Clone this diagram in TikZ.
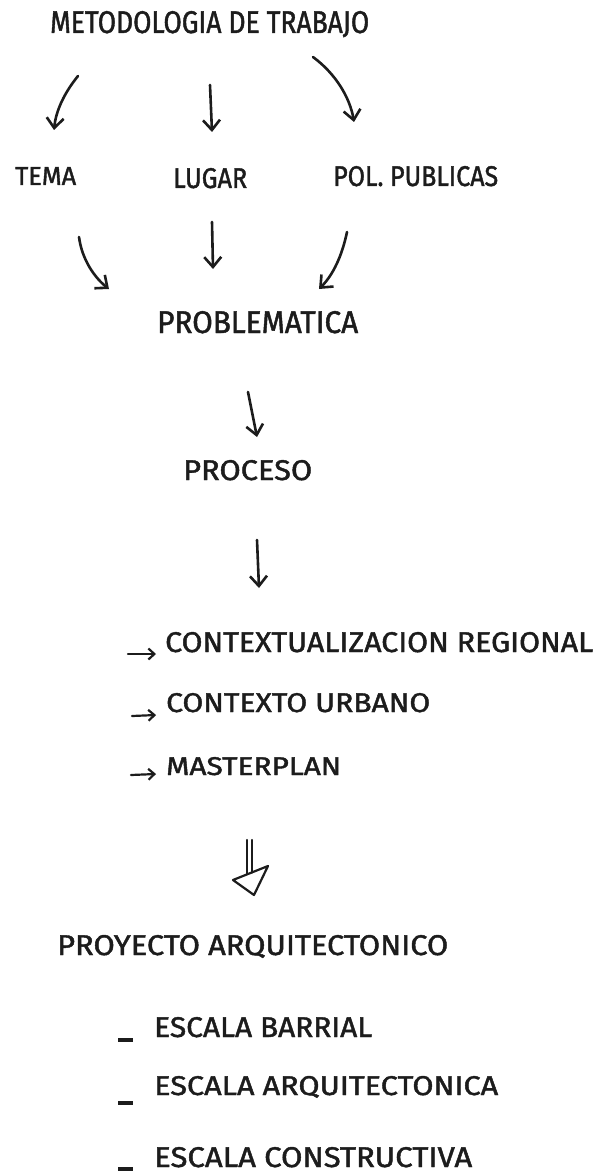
\documentclass[tikz,border=0pt]{standalone}
\usepackage{fontspec}
\newfontfamily\hand{Fira Sans}[FakeBold=1.5]
\usetikzlibrary{arrows.meta}
\definecolor{ink}{HTML}{1C1C1C}
\newcommand{\fit}[3]{\resizebox{#1pt}{#2pt}{#3}}
\tikzset{
  lbl/.style={anchor=base west, inner sep=0pt, text=ink, font=\hand\fontsize{26}{30}\selectfont},
  arr/.style={draw=ink, line width=2.6pt, line cap=round, line join=round,
    -{Straight Barb[length=10pt,width=17pt,line width=2.6pt]}},
  smallarr/.style={draw=ink, line width=2.2pt, line cap=round,
    -{Straight Barb[length=6pt,width=11pt,line width=2.2pt]}},
  dashmark/.style={draw=ink, line width=3.5pt},
  hollow/.style={draw=ink, line width=2.2pt, line join=round, line cap=round}
}
\begin{document}
\begin{tikzpicture}[x=1pt,y=-1pt]
\useasboundingbox (0,0) rectangle (602,1174);
% texts
\node[lbl] (met) at (50,33) {\fit{319}{22}{METODOLOGIA DE TRABAJO}};
\node[lbl] (tema) at (15,185) {\fit{61}{18}{TEMA}};
\node[lbl] (lugar) at (173,188) {\fit{74}{20}{LUGAR}};
\node[lbl] (pol) at (333,186) {\fit{165}{20}{POL. PUBLICAS}};
\node[lbl] (prob) at (157,333) {\fit{201}{22}{PROBLEMATICA}};
\node[lbl] (proc) at (183,480) {\fit{129}{20}{PROCESO}};
\node[lbl] (creg) at (165,652) {\fit{428}{20}{CONTEXTUALIZACION REGIONAL}};
\node[lbl] (curb) at (166,712) {\fit{264}{19}{CONTEXTO URBANO}};
\node[lbl] (mast) at (166,775) {\fit{175}{18}{MASTERPLAN}};
\node[lbl] (proy) at (57,955) {\fit{391}{20}{PROYECTO ARQUITECTONICO}};
\node[lbl] (ebar) at (154,1037) {\fit{218}{20}{ESCALA BARRIAL}};
\node[lbl] (earq) at (154,1095) {\fit{344}{19}{ESCALA ARQUITECTONICA}};
\node[lbl] (econ) at (154,1167) {\fit{318}{20}{ESCALA CONSTRUCTIVA}};
% connector end points
\coordinate (a1s) at (78,76);   \coordinate (a1e) at (54,130);
\coordinate (a2s) at (210,85);  \coordinate (a2e) at (212,132);
\coordinate (a3s) at (313,57);  \coordinate (a3e) at (354,122);
\coordinate (b1s) at (79,237);  \coordinate (b1e) at (109,289);
\coordinate (b2s) at (212,222); \coordinate (b2e) at (213,269);
\coordinate (b3s) at (347,232); \coordinate (b3e) at (319,289);
\coordinate (c1s) at (248,392); \coordinate (c1e) at (257,437);
\coordinate (c2s) at (257,540); \coordinate (c2e) at (259,588);
\coordinate (r1s) at (128,654); \coordinate (r1e) at (156,654);
\coordinate (r2s) at (132,716); \coordinate (r2e) at (156,715);
\coordinate (r3s) at (131,775); \coordinate (r3e) at (156,774);
% arrows
\draw[arr] (a1s) .. controls (65,92) and (56,110) .. (a1e);
\draw[arr] (a2s) -- (a2e);
\draw[arr] (a3s) .. controls (336,74) and (350,98) .. (a3e);
\draw[arr] (b1s) .. controls (82,260) and (95,278) .. (b1e);
\draw[arr] (b2s) -- (b2e);
\draw[arr] (b3s) .. controls (342,256) and (333,275) .. (b3e);
\draw[arr] (c1s) -- (c1e);
\draw[arr] (c2s) -- (c2e);
\draw[smallarr] (r1s) -- (r1e);
\draw[smallarr] (r2s) -- (r2e);
\draw[smallarr] (r3s) -- (r3e);
% hollow arrow
\coordinate (hl) at (233,880); \coordinate (hr) at (268,866); \coordinate (ht) at (254,895);
\draw[hollow] (hl) -- (hr) -- (ht) -- cycle;
\draw[hollow] (247,840) -- (247,874);
\draw[hollow] (252,840) -- (252,872.5);
% dashes
\draw[dashmark] (118,1040) -- (133,1040);
\draw[dashmark] (118,1103) -- (133,1103);
\draw[dashmark] (118,1169) -- (133,1169);
\end{tikzpicture}
\end{document}
